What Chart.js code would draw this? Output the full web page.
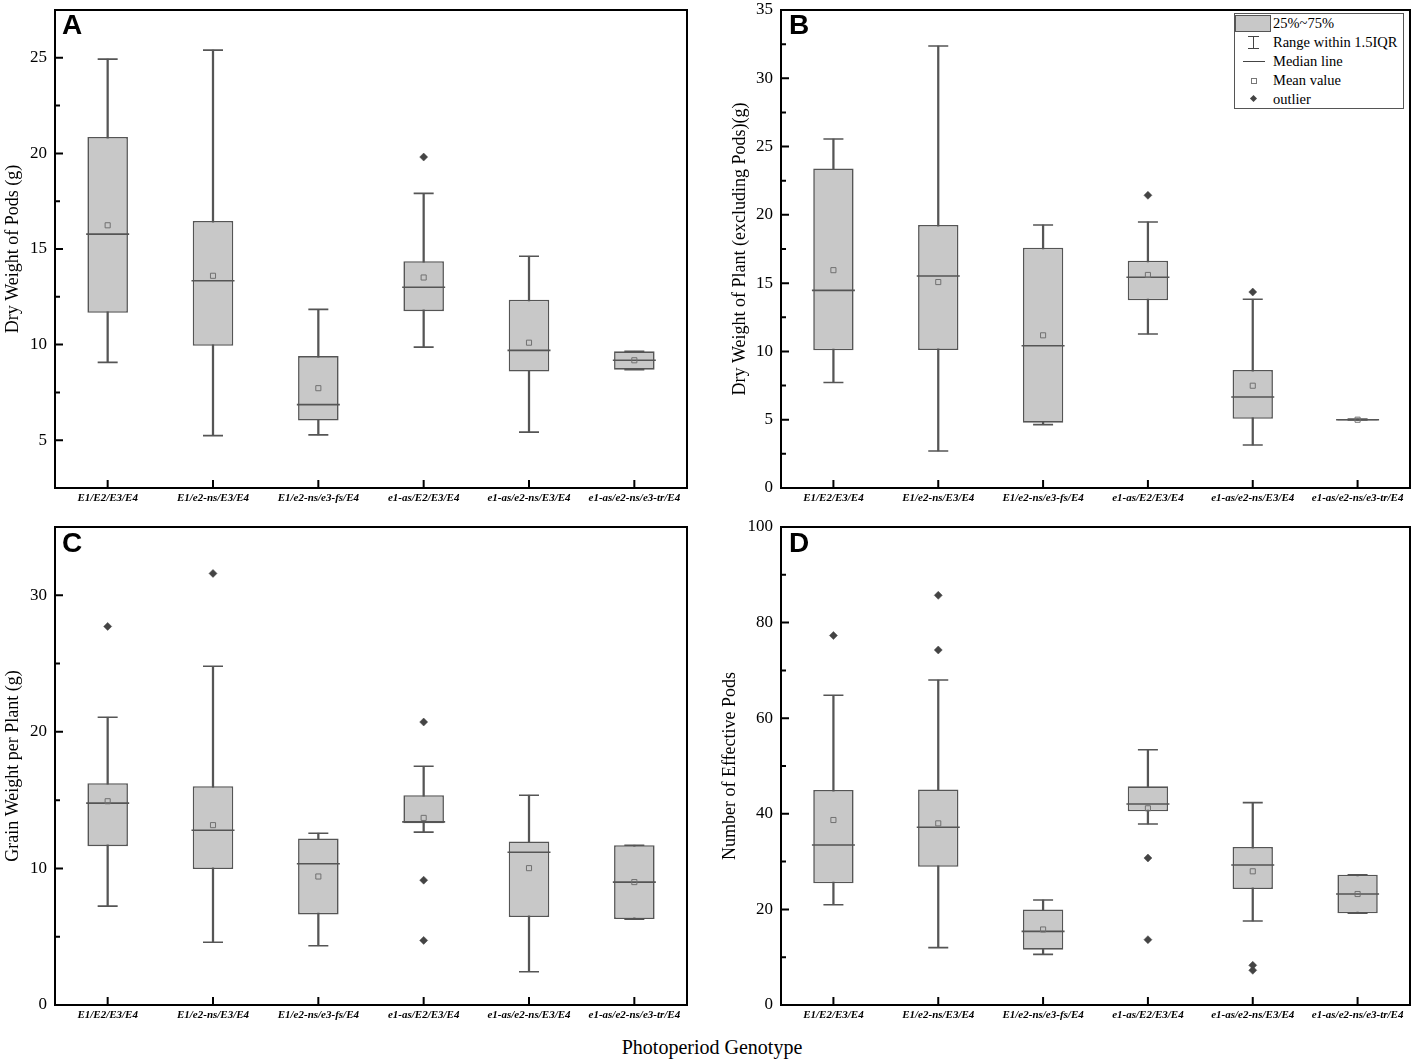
<!DOCTYPE html>
<html>
<head>
<meta charset="utf-8">
<script src="https://cdn.jsdelivr.net/npm/chart.js@4.4.0/dist/chart.umd.min.js"></script>
<style>
    body {
        margin: 0;
        background: #fff;
        width: 1417px;
        height: 1063px;
        position: relative;
        overflow: hidden;
        font-family: 'Liberation Serif', 'Times New Roman', serif;
        color: #000;
    }
    .panel { position: absolute; }
    .letter {
        position: absolute;
        font: bold 28px 'Liberation Sans', Arial, sans-serif;
        line-height: 1;
    }
    .xtitle {
        position: absolute;
        left: 412px;
        width: 600px;
        top: 1036px;
        text-align: center;
        font-size: 20px;
    }
    .legend {
        position: absolute;
        left: 1234px;
        top: 13px;
        width: 168px;
        height: 94px;
        border: 1px solid #555;
        background: #fff;
        font-size: 14.5px;
    }
    .legend .row {
        position: relative;
        height: 19px;
        line-height: 19px;
        padding-left: 38px;
        white-space: nowrap;
    }
    .legend .sym { position: absolute; }
    .swatch { left: 0; top: 1px; width: 34px; height: 15px; background: #c8c8c8; border: 1px solid #555; }
    .ibeam { left: 18px; top: 3px; width: 1px; height: 13px; background: #444; }
    .cap { left: 13px; width: 11px; height: 1px; background: #444; }
    .medline { left: 8px; top: 9px; width: 22px; height: 1px; background: #444; }
    .meanbox { left: 16px; top: 7px; width: 4px; height: 4px; border: 1px solid #777; }
    .diamond { left: 16px; top: 6px; width: 5px; height: 5px; background: #444; transform: rotate(45deg); }
</style>
</head>
<body>
<div class="panel" style="left:0;top:0;width:700px;height:515px"><canvas id="chartA"></canvas></div>
<div class="panel" style="left:727px;top:0;width:690px;height:515px"><canvas id="chartB"></canvas></div>
<div class="panel" style="left:0;top:517px;width:700px;height:515px"><canvas id="chartC"></canvas></div>
<div class="panel" style="left:717px;top:517px;width:700px;height:515px"><canvas id="chartD"></canvas></div>

<div class="letter" style="left:62px;top:11px">A</div>
<div class="letter" style="left:789px;top:11px">B</div>
<div class="letter" style="left:62px;top:529px">C</div>
<div class="letter" style="left:789px;top:529px">D</div>

<div class="legend">
    <div class="row"><span class="sym swatch"></span>25%~75%</div>
    <div class="row"><span class="sym ibeam"></span><span class="sym cap" style="top:3px"></span><span class="sym cap" style="top:15px"></span>Range within 1.5IQR</div>
    <div class="row"><span class="sym medline"></span>Median line</div>
    <div class="row"><span class="sym meanbox"></span>Mean value</div>
    <div class="row"><span class="sym diamond"></span>outlier</div>
</div>

<div class="xtitle">Photoperiod Genotype</div>

<script>
const genotypes = ["E1/E2/E3/E4", "E1/e2-ns/E3/E4", "E1/e2-ns/e3-fs/E4", "e1-as/E2/E3/E4", "e1-as/e2-ns/E3/E4", "e1-as/e2-ns/e3-tr/E4"];

// A: dry weight of pods
const podsTicks    = [5, 10, 15, 20, 25];
const podsMin      = [9.07, 5.24, 5.28, 9.87, 5.42, 8.69];
const podsQ1       = [11.66, 9.94, 6.03, 11.75, 8.59, 8.69];
const podsMedian   = [15.78, 13.34, 6.86, 13.0, 9.70, 9.18];
const podsQ3       = [20.86, 16.47, 9.40, 14.36, 12.35, 9.65];
const podsMax      = [24.93, 25.40, 11.84, 17.91, 14.62, 9.65];
const podsMean     = [16.24, 13.60, 7.72, 13.51, 10.10, 9.18];
const podsOutliers = [[], [], [], [19.81], [], []];

// B: dry weight of plant (excluding pods)
const plantTicks    = [0, 5, 10, 15, 20, 25, 30, 35];
const plantMin      = [7.72, 2.71, 4.64, 11.28, 3.15, 4.98];
const plantQ1       = [10.08, 10.1, 4.78, 13.74, 5.07, 4.95];
const plantMedian   = [14.47, 15.52, 10.42, 15.43, 6.66, 5.0];
const plantQ3       = [23.40, 19.26, 17.6, 16.64, 8.64, 5.05];
const plantMax      = [25.55, 32.36, 19.26, 19.48, 13.82, 5.05];
const plantMean     = [15.95, 15.08, 11.18, 15.6, 7.49, 5.0];
const plantOutliers = [[], [], [], [21.43], [14.35], []];

// C: grain weight per plant
const grainTicks    = [0, 10, 20, 30];
const grainMin      = [7.24, 4.6, 4.34, 12.66, 2.44, 6.29];
const grainQ1       = [11.63, 9.95, 6.63, 13.31, 6.44, 6.29];
const grainMedian   = [14.78, 12.8, 10.34, 13.41, 11.19, 9.0];
const grainQ3       = [16.24, 16.02, 12.19, 15.36, 11.97, 11.7];
const grainMax      = [21.07, 24.8, 12.58, 17.48, 15.36, 11.7];
const grainMean     = [14.92, 13.17, 9.41, 13.70, 10.02, 9.0];
const grainOutliers = [[27.72], [31.6], [], [20.72, 9.14, 4.73], [], []];

// D: number of effective pods
const countTicks    = [0, 20, 40, 60, 80, 100];
const countMin      = [20.98, 12.0, 10.6, 37.87, 17.57, 19.18];
const countQ1       = [25.46, 28.9, 11.58, 40.52, 24.27, 19.18];
const countMedian   = [33.47, 37.2, 15.4, 42.05, 29.29, 23.22];
const countQ3       = [44.98, 45.1, 20.0, 45.75, 33.05, 27.26];
const countMax      = [64.8, 68.0, 21.97, 53.4, 42.33, 27.26];
const countMean     = [38.7, 38.0, 15.8, 41.15, 27.97, 23.22];
const countOutliers = [[77.3], [85.7, 74.27], [], [30.75, 13.67], [8.3, 7.26], []];

const STROKE = "#555555";
const BOX_FILL = "#c8c8c8";
const SERIF = "'Liberation Serif', 'Times New Roman', serif";

Chart.defaults.animation = false;

// frame around the plot plus inward major/minor ticks, placed by the chart's own scales
const frameTicks = {
    id: "frameTicks",
    afterDatasetsDraw(chart, args, opts) {
        const { ctx, chartArea: a, scales: { x, y } } = chart;
        const half = opts.step / 2;
        ctx.save();
        ctx.strokeStyle = "#000";
        ctx.lineWidth = 2;
        ctx.strokeRect(a.left, a.top, a.right - a.left, a.bottom - a.top);
        ctx.beginPath();
        y.ticks.forEach(t => {
            const py = y.getPixelForValue(t.value);
            ctx.moveTo(a.left, py);
            ctx.lineTo(a.left + 8, py);
            [t.value - half, t.value + half].forEach(m => {
                if (m < y.min - 1e-9 || m > y.max + 1e-9) return;
                const pm = y.getPixelForValue(m);
                ctx.moveTo(a.left, pm);
                ctx.lineTo(a.left + 5, pm);
            });
        });
        x.ticks.forEach((t, i) => {
            const px = x.getPixelForTick(i);
            ctx.moveTo(px, a.bottom);
            ctx.lineTo(px, a.bottom - 8);
        });
        ctx.stroke();
        ctx.restore();
    }
};

function makePanel(id, p) {
    const outlierPts = p.outliers.flatMap((list, i) => list.map(v => ({ x: genotypes[i], y: v })));
    const step = p.ticks[1] - p.ticks[0];
    return new Chart(document.getElementById(id), {
        type: "bar",
        data: {
            labels: genotypes,
            datasets: [
                {
                    type: "line", label: "outlier", data: outlierPts, showLine: false,
                    pointStyle: "rectRot", pointRadius: 4, pointBackgroundColor: "#444",
                    pointBorderColor: "#444", pointBorderWidth: 0.5, order: 0
                },
                {
                    type: "line", label: "mean", data: p.mean, showLine: false,
                    pointStyle: "rect", pointRadius: 3.6, pointBackgroundColor: "rgba(0,0,0,0)",
                    pointBorderColor: "#707070", pointBorderWidth: 1, order: 0
                },
                {
                    type: "line", label: "median", data: p.median, showLine: false,
                    pointStyle: "line", pointRadius: 21.5, pointBorderColor: STROKE,
                    pointBorderWidth: 1.6, order: 1
                },
                {
                    type: "line", label: "cap low", data: p.min, showLine: false,
                    pointStyle: "line", pointRadius: 10, pointBorderColor: STROKE,
                    pointBorderWidth: 1.6, order: 1
                },
                {
                    type: "line", label: "cap high", data: p.max, showLine: false,
                    pointStyle: "line", pointRadius: 10, pointBorderColor: STROKE,
                    pointBorderWidth: 1.6, order: 1
                },
                {
                    label: "box", data: p.q1.map((v, i) => [v, p.q3[i]]),
                    barPercentage: 0.385, categoryPercentage: 1, grouped: false,
                    backgroundColor: BOX_FILL, borderColor: STROKE, borderWidth: 1.6,
                    borderSkipped: false, order: 2
                },
                {
                    label: "whisker", data: p.min.map((v, i) => [v, p.max[i]]),
                    barThickness: 1.6, grouped: false, backgroundColor: STROKE,
                    borderWidth: 0, order: 3
                }
            ]
        },
        options: {
            responsive: true,
            maintainAspectRatio: false,
            layout: { autoPadding: false, padding: { top: 10, right: p.padRight, left: 0, bottom: 0 } },
            plugins: {
                legend: { display: false },
                tooltip: { enabled: false },
                frameTicks: { step }
            },
            scales: {
                x: {
                    offset: true,
                    grid: { display: false, drawTicks: false },
                    border: { display: false },
                    ticks: {
                        color: "#000", autoSkip: false, maxRotation: 0, padding: 4,
                        font: { family: SERIF, size: 11, style: "italic", weight: "bold" }
                    },
                    afterFit: s => { s.height = 27; s.paddingLeft = 0; s.paddingRight = 0; }
                },
                y: {
                    min: p.yMin,
                    max: p.yMax,
                    grid: { display: false, drawTicks: false },
                    border: { display: false },
                    ticks: {
                        color: "#000", padding: 8,
                        font: { family: SERIF, size: 17 }
                    },
                    afterBuildTicks: s => { s.ticks = p.ticks.map(v => ({ value: v })); },
                    title: {
                        display: true, text: p.title, color: "#000",
                        font: { family: SERIF, size: 18 }, padding: { top: 2, bottom: 0 }
                    },
                    afterFit: s => { s.width = p.yWidth; s.paddingTop = 0; s.paddingBottom = 0; }
                }
            }
        },
        plugins: [frameTicks]
    });
}

makePanel("chartA", {
    title: "Dry Weight of Pods (g)", yMin: 2.5, yMax: 27.5, ticks: podsTicks, yWidth: 55, padRight: 13,
    min: podsMin, q1: podsQ1, median: podsMedian, q3: podsQ3, max: podsMax, mean: podsMean, outliers: podsOutliers
});
makePanel("chartB", {
    title: "Dry Weight of Plant (excluding Pods)(g)", yMin: 0, yMax: 35, ticks: plantTicks, yWidth: 54, padRight: 7,
    min: plantMin, q1: plantQ1, median: plantMedian, q3: plantQ3, max: plantMax, mean: plantMean, outliers: plantOutliers
});
makePanel("chartC", {
    title: "Grain Weight per Plant (g)", yMin: 0, yMax: 35, ticks: grainTicks, yWidth: 55, padRight: 13,
    min: grainMin, q1: grainQ1, median: grainMedian, q3: grainQ3, max: grainMax, mean: grainMean, outliers: grainOutliers
});
makePanel("chartD", {
    title: "Number of Effective Pods", yMin: 0, yMax: 100, ticks: countTicks, yWidth: 64, padRight: 7,
    min: countMin, q1: countQ1, median: countMedian, q3: countQ3, max: countMax, mean: countMean, outliers: countOutliers
});
</script>
</body>
</html>
